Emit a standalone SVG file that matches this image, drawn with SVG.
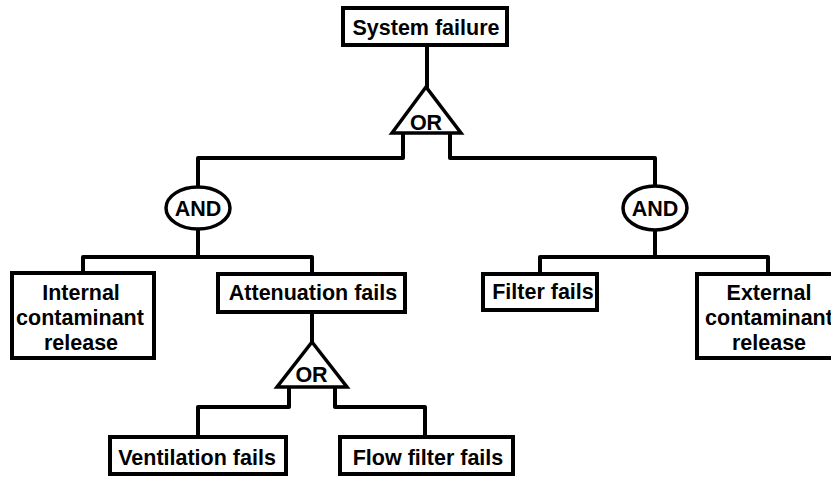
<svg xmlns="http://www.w3.org/2000/svg" width="831" height="477" viewBox="0 0 831 477">
<style>
.box{fill:#fff;stroke:#000;stroke-width:4}
.gate{fill:#fff;stroke:#000;stroke-width:3.5;stroke-linejoin:miter}
.conn{fill:none;stroke:#000;stroke-width:4;stroke-linejoin:round}
text{font-family:"Liberation Sans",Arial,Helvetica,sans-serif;font-weight:bold;font-size:21.5px;text-anchor:middle;fill:#000}
</style>
<rect width="831" height="477" fill="#fff"/>
<g id="connectors">
<path class="conn" d="M427 45V88"/>
<path class="conn" d="M403 133V158H198V188"/>
<path class="conn" d="M450 133V158H655V186"/>
<path class="conn" d="M198 229V257"/>
<path class="conn" d="M83 273V257H312V274"/>
<path class="conn" d="M655 230V257"/>
<path class="conn" d="M540 274V257H768V274"/>
<path class="conn" d="M312 312V342"/>
<path class="conn" d="M289 387V407H198V437"/>
<path class="conn" d="M335 387V407H425V437"/>
</g>
<g id="system-failure">
<rect class="box" x="343" y="8" width="164" height="37"/>
<text x="426" y="35">System failure</text>
</g>
<g id="or-top">
<polygon class="gate" points="426,87 392,133 461,133"/>
<text x="426" y="130">OR</text>
</g>
<g id="and-left">
<ellipse class="gate" cx="198" cy="208" rx="32" ry="21"/>
<text x="198" y="216">AND</text>
</g>
<g id="and-right">
<ellipse class="gate" cx="655" cy="208" rx="32" ry="22"/>
<text x="655" y="216">AND</text>
</g>
<g id="internal">
<rect class="box" x="12" y="273" width="142" height="85"/>
<text x="81" y="300">Internal</text>
<text x="80" y="325">contaminant</text>
<text x="81" y="350">release</text>
</g>
<g id="attenuation">
<rect class="box" x="218" y="274" width="187" height="38"/>
<text x="313" y="300">Attenuation fails</text>
</g>
<g id="filter">
<rect class="box" x="483" y="274" width="114" height="36"/>
<text x="543" y="298.5">Filter fails</text>
</g>
<g id="external">
<rect class="box" x="697" y="274" width="144" height="84"/>
<text x="769" y="300">External</text>
<text x="769" y="325">contaminant</text>
<text x="769" y="350">release</text>
</g>
<g id="or-bottom">
<polygon class="gate" points="312,342 277,387 347,387"/>
<text x="311.5" y="382">OR</text>
</g>
<g id="ventilation">
<rect class="box" x="110" y="437" width="176" height="37"/>
<text x="197" y="465">Ventilation fails</text>
</g>
<g id="flow-filter">
<rect class="box" x="340" y="437" width="173" height="37"/>
<text x="428" y="465">Flow filter fails</text>
</g>
</svg>
